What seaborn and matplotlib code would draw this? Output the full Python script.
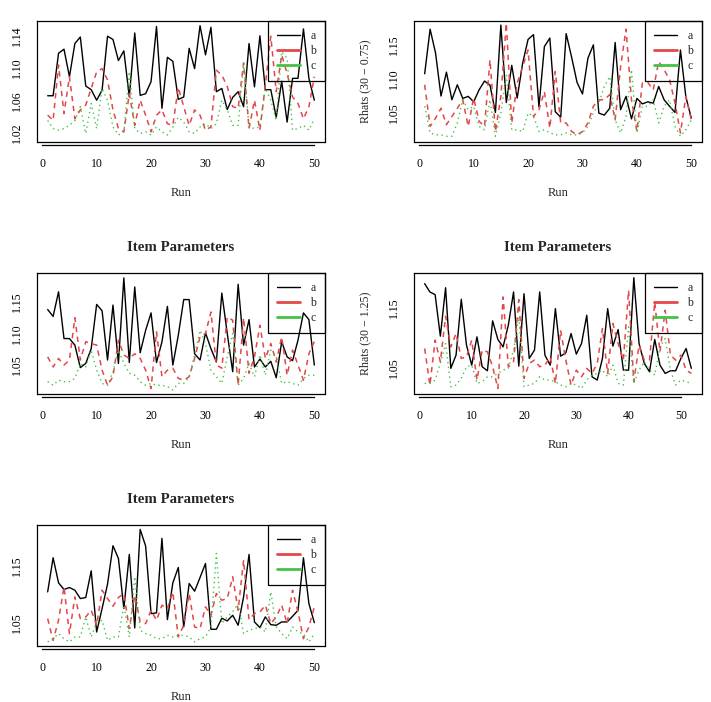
import matplotlib
matplotlib.use("Agg")
import matplotlib.pyplot as plt
from matplotlib.lines import Line2D
import numpy as np
import pandas as pd
import seaborn as sns

# ---- data (Rhat per run, parameters a, b, c) ----
a1 = [1.0655, 1.0655, 1.118, 1.123, 1.089, 1.130, 1.138, 1.0775, 1.073, 1.060,
      1.0725, 1.139, 1.135, 1.109, 1.121, 1.064, 1.143, 1.066, 1.068, 1.083,
      1.151, 1.050, 1.113, 1.108, 1.061, 1.064, 1.124, 1.099, 1.152, 1.116,
      1.150, 1.0705, 1.0745, 1.0485, 1.0635, 1.0705, 1.052, 1.130, 1.0765, 1.1395,
      1.073, 1.073, 1.039, 1.0835, 1.033, 1.087, 1.087, 1.148, 1.087, 1.060]
b1 = [1.0415, 1.035, 1.1035, 1.0435, 1.089, 1.037, 1.048, 1.054, 1.0745, 1.095,
      1.099, 1.085, 1.048, 1.025, 1.021, 1.068, 1.029, 1.060, 1.0415, 1.021,
      1.0415, 1.048, 1.031, 1.029, 1.076, 1.052, 1.029, 1.048, 1.0415, 1.023,
      1.027, 1.097, 1.091, 1.077, 1.052, 1.050, 1.106, 1.025, 1.060, 1.023,
      1.079, 1.139, 1.0705, 1.116, 1.093, 1.064, 1.056, 1.037, 1.052, 1.089]
c1 = [1.035, 1.025, 1.023, 1.025, 1.029, 1.035, 1.052, 1.019, 1.056, 1.025,
      1.0745, 1.060, 1.027, 1.017, 1.021, 1.095, 1.025, 1.019, 1.021, 1.017,
      1.027, 1.021, 1.017, 1.027, 1.039, 1.033, 1.021, 1.019, 1.027, 1.031,
      1.025, 1.031, 1.060, 1.048, 1.029, 1.029, 1.106, 1.027, 1.025, 1.027,
      1.0745, 1.060, 1.035, 1.120, 1.112, 1.023, 1.025, 1.029, 1.023, 1.037]

a2 = [1.1076, 1.173, 1.138, 1.075, 1.110, 1.0695, 1.0915, 1.0715, 1.0745, 1.0665,
      1.084, 1.097, 1.091, 1.051, 1.179, 1.0655, 1.120, 1.072, 1.123, 1.158,
      1.165, 1.059, 1.1475, 1.160, 1.052, 1.044, 1.1665, 1.132, 1.095, 1.078,
      1.1305, 1.150, 1.050, 1.047, 1.057, 1.1535, 1.055, 1.0745, 1.0415, 1.0715,
      1.0635, 1.0665, 1.0645, 1.089, 1.0695, 1.060, 1.051, 1.1425, 1.0735, 1.0425]
b2 = [1.0915, 1.0305, 1.0425, 1.057, 1.033, 1.045, 1.057, 1.0695, 1.0305, 1.072,
      1.038, 1.0305, 1.128, 1.023, 1.0745, 1.182, 1.0355, 1.094, 1.118, 1.1425,
      1.045, 1.055, 1.0815, 1.028, 1.111, 1.0355, 1.0355, 1.023, 1.018, 1.023,
      1.0355, 1.060, 1.0695, 1.0695, 1.077, 1.040, 1.118, 1.173, 1.0695, 1.023,
      1.094, 1.095, 1.084, 1.1255, 1.1135, 1.099, 1.0645, 1.021, 1.0745, 1.040]
c2 = [1.060, 1.021, 1.018, 1.018, 1.016, 1.016, 1.0355, 1.0695, 1.055, 1.060,
      1.0305, 1.0255, 1.0695, 1.016, 1.050, 1.106, 1.0255, 1.0255, 1.023, 1.050,
      1.045, 1.023, 1.0255, 1.021, 1.018, 1.018, 1.021, 1.018, 1.018, 1.021,
      1.0305, 1.050, 1.0645, 1.089, 1.1035, 1.040, 1.021, 1.045, 1.1135, 1.021,
      1.060, 1.060, 1.0695, 1.0355, 1.060, 1.0695, 1.0305, 1.016, 1.0255, 1.040]

a3 = [1.138, 1.127, 1.166, 1.092, 1.092, 1.0816, 1.046, 1.0526, 1.076, 1.146,
      1.136, 1.058, 1.145, 1.0526, 1.188, 1.054, 1.1737, 1.0695, 1.105, 1.1326,
      1.054, 1.0868, 1.143, 1.050, 1.097, 1.1537, 1.1537, 1.068, 1.058, 1.101,
      1.076, 1.055, 1.164, 1.100, 1.0395, 1.1779, 1.0816, 1.122, 1.047, 1.0595,
      1.047, 1.056, 1.030, 1.0868, 1.063, 1.057, 1.0895, 1.1326, 1.122, 1.050]
b3 = [1.063, 1.047, 1.0605, 1.050, 1.058, 1.125, 1.058, 1.087, 1.084, 1.0816,
      1.042, 1.018, 1.0316, 1.0895, 1.066, 1.0605, 1.068, 1.0605, 1.042, 1.013,
      1.1026, 1.0316, 1.042, 1.045, 1.029, 1.026, 1.0316, 1.0605, 1.0947, 1.100,
      1.134, 1.050, 1.045, 1.126, 1.121, 1.018, 1.125, 1.037, 1.063, 1.113,
      1.0605, 1.084, 1.055, 1.0947, 1.034, 1.0737, 1.050, 1.026, 1.068, 1.087]
c3 = [1.0237, 1.018, 1.026, 1.0237, 1.0237, 1.029, 1.0526, 1.047, 1.0737, 1.042,
      1.021, 1.018, 1.0395, 1.0737, 1.0526, 1.037, 1.034, 1.0237, 1.018, 1.021,
      1.018, 1.018, 1.016, 1.0105, 1.021, 1.021, 1.0316, 1.066, 1.105, 1.084,
      1.042, 1.0316, 1.021, 1.063, 1.100, 1.018, 1.029, 1.0526, 1.0316, 1.066,
      1.034, 1.0737, 1.063, 1.021, 1.0237, 1.021, 1.018, 1.029, 1.034, 1.034]

a4 = [1.1898, 1.176, 1.1715, 1.1025, 1.183, 1.049, 1.071, 1.1638, 1.0876, 1.0544,
      1.1014, 1.0517, 1.045, 1.128, 1.097, 1.0848, 1.1207, 1.176, 1.0528, 1.173,
      1.0655, 1.0793, 1.176, 1.071, 1.0544, 1.1483, 1.0693, 1.0749, 1.1069, 1.0727,
      1.0903, 1.1373, 1.035, 1.0296, 1.0655, 1.1483, 1.0859, 1.1135, 1.0461, 1.0461,
      1.1997, 1.0903, 1.0572, 1.0434, 1.097, 1.0544, 1.0406, 1.045, 1.045, 1.0655,
      1.082, 1.049]
b4 = [1.082, 1.0213, 1.0959, 1.060, 1.1356, 1.0848, 1.1069, 1.0655, 1.068, 1.0959,
      1.0296, 1.0793, 1.0765, 1.0517, 1.0157, 1.1677, 1.0517, 1.060, 1.1633, 1.0323,
      1.0572, 1.0627, 1.0517, 1.0544, 1.068, 1.024, 1.1124, 1.0627, 1.0213, 1.0461,
      1.035, 1.049, 1.0406, 1.0572, 1.1152, 1.0406, 1.1235, 1.0903, 1.0627, 1.1787,
      1.0268, 1.0876, 1.0627, 1.0627, 1.1594, 1.0765, 1.1456, 1.071, 1.0627, 1.071,
      1.0461, 1.0406]
c4 = [1.024, 1.024, 1.0296, 1.0572, 1.0903, 1.0185, 1.0213, 1.0323, 1.0517, 1.0544,
      1.024, 1.0268, 1.035, 1.035, 1.0406, 1.0461, 1.049, 1.0793, 1.1345, 1.0185,
      1.0213, 1.024, 1.035, 1.0296, 1.0296, 1.0268, 1.0213, 1.0185, 1.024, 1.0213,
      1.0157, 1.0296, 1.0378, 1.0406, 1.0461, 1.035, 1.0544, 1.024, 1.0213, 1.118,
      1.024, 1.0461, 1.060, 1.0461, 1.0378, 1.0848, 1.0986, 1.0461, 1.0213, 1.0296,
      1.0268, 1.024]

a5 = [1.1044, 1.1648, 1.1204, 1.1086, 1.1121, 1.1074, 1.0926, 1.0944, 1.1417, 1.0334,
      1.0749, 1.118, 1.1861, 1.1636, 1.0749, 1.1707, 1.0405, 1.215, 1.1855, 1.066,
      1.0672, 1.1991, 1.0553, 1.1204, 1.1476, 1.0423, 1.1192, 1.1056, 1.1299, 1.1547,
      1.0382, 1.0382, 1.0577, 1.053, 1.063, 1.0453, 1.0956, 1.1707, 1.0512, 1.0411,
      1.0601, 1.0464, 1.0453, 1.0512, 1.0512, 1.0612, 1.0719, 1.1648, 1.0837, 1.050]
b5 = [1.0571, 1.0186, 1.0541, 1.1133, 1.0305, 1.0956, 1.0571, 1.0601, 1.0719, 1.0453,
      1.1074, 1.0926, 1.079, 1.0944, 1.1015, 1.0393, 1.0985, 1.0512, 1.0482, 1.0719,
      1.0541, 1.0808, 1.0749, 1.1044, 1.0246, 1.0453, 1.1015, 1.0423, 1.0393, 1.0778,
      1.063, 1.1015, 1.0896, 1.0926, 1.1311, 1.0719, 1.1607, 1.0553, 1.066, 1.0689,
      1.0808, 1.0482, 1.0601, 1.0808, 1.0482, 1.1074, 1.0689, 1.0216, 1.0423, 1.0778]
c5 = [1.0157, 1.0216, 1.0305, 1.0216, 1.0157, 1.0246, 1.0246, 1.0601, 1.0246, 1.0512,
      1.0541, 1.0186, 1.0246, 1.0246, 1.0808, 1.0246, 1.1311, 1.0364, 1.0305, 1.0275,
      1.0216, 1.0216, 1.0275, 1.0246, 1.0275, 1.0275, 1.0246, 1.0157, 1.0216, 1.0246,
      1.0423, 1.1725, 1.0482, 1.0601, 1.0689, 1.0837, 1.0305, 1.0364, 1.0393, 1.0423,
      1.0334, 1.1044, 1.0423, 1.0305, 1.0216, 1.0423, 1.0334, 1.0305, 1.0157, 1.0305]

ylabels = ["", "Rhats (30 \u2212 0.75)", "", "Rhats (30 \u2212 1.25)", ""]
titles = ["", "", "Item Parameters", "Item Parameters", "Item Parameters"]
ylims = [(1.0084, 1.1578), (1.0076, 1.185), (1.0042, 1.1958), (1.0064, 1.2075), (1.0086, 1.2228)]
yticks = [[1.02, 1.04, 1.06, 1.08, 1.10, 1.12, 1.14],
          [1.05, 1.10, 1.15],
          [1.05, 1.10, 1.15],
          [1.05, 1.10, 1.15, 1.20],
          [1.05, 1.10, 1.15, 1.20]]
ytick_labels = [["1.02", "", "1.06", "", "1.10", "", "1.14"],
                ["1.05", "1.10", "1.15"],
                ["1.05", "1.10", "1.15"],
                ["1.05", "", "1.15", ""],
                ["1.05", "", "1.15", ""]]
xticks = [0, 10, 20, 30, 40, 50]
series_names = ["a", "b", "c"]

panels = [(a1, b1, c1), (a2, b2, c2), (a3, b3, c3), (a4, b4, c4), (a5, b5, c5)]

sns.set_style("white")
plt.rcParams["font.family"] = ["Liberation Serif", "DejaVu Serif"]
plt.rcParams["font.size"] = 8.5

RED = "#E3474A"
GREEN = "#45C245"

fig = plt.figure(figsize=(7.11, 7.02), dpi=100)
W, H = 711, 702
boxes = [(37, 21), (414, 21), (37, 273), (414, 273), (37, 525)]
bw, bh = 288, 121

for i, (series, (px, py)) in enumerate(zip(panels, boxes)):
    ax = fig.add_axes([px / W, 1 - (py + bh) / H, bw / W, bh / H])
    n = len(series[0])
    df = pd.DataFrame({"run": np.arange(1, n + 1),
                       "a": series[0], "b": series[1], "c": series[2]})

    sns.lineplot(data=df, x="run", y="a", color="black", lw=1.0, ax=ax)
    sns.lineplot(data=df, x="run", y="b", color=RED, lw=1.1, ax=ax)
    ax.lines[-1].set_dashes((3.5, 3))
    sns.lineplot(data=df, x="run", y="c", color=GREEN, lw=1.0, ax=ax)
    ax.lines[-1].set_dashes((1, 2.5))

    ext = (n - 1) * 0.04
    ax.set_xlim(1 - ext, n + ext)
    ax.set_ylim(*ylims[i])
    ax.set_xticks(xticks)
    ax.set_yticks(yticks[i])
    ax.set_yticklabels(ytick_labels[i], rotation=90, va="center")
    ax.tick_params(axis="both", direction="out", length=4.3, width=0.8,
                   colors="black", labelsize=8.5)
    ax.tick_params(axis="y", pad=5.5)
    ax.tick_params(axis="x", pad=5)

    # R style: full box, x axis drawn a bit below and only over the tick range
    for s in ["top", "right", "left"]:
        ax.spines[s].set_color("black")
        ax.spines[s].set_linewidth(0.9)
    ax.spines["bottom"].set_position(("outward", 2))
    ax.spines["bottom"].set_bounds(0, 50)
    ax.spines["bottom"].set_linewidth(0.9)
    ax.spines["bottom"].set_color("black")
    ax.plot([0, 1], [0, 0], transform=ax.transAxes, color="black", lw=0.9, clip_on=False)

    ax.set_xlabel("Run", fontsize=9)
    ax.xaxis.set_label_coords(0.5, -0.42)
    ax.xaxis.label.set_va("center")
    ax.set_ylabel(ylabels[i], fontsize=8.6)
    ax.yaxis.set_label_coords(-0.17, 0.5)
    ax.yaxis.label.set_va("center")
    if titles[i]:
        ax.set_title(titles[i], fontsize=10.7, fontweight="bold", pad=16)

    handles = [Line2D([], [], color="black", lw=1.0),
               Line2D([], [], color=RED, lw=2.0),
               Line2D([], [], color=GREEN, lw=2.0)]
    leg = ax.legend(handles, series_names, loc="upper right", borderaxespad=0,
                    fancybox=False, framealpha=1, edgecolor="black",
                    handlelength=1.9, handletextpad=0.9, labelspacing=0.25,
                    borderpad=0.75, fontsize=8.5)
    leg.get_frame().set_facecolor("none")
    leg.get_frame().set_linewidth(0.9)

fig.savefig("out.png", dpi=100)
